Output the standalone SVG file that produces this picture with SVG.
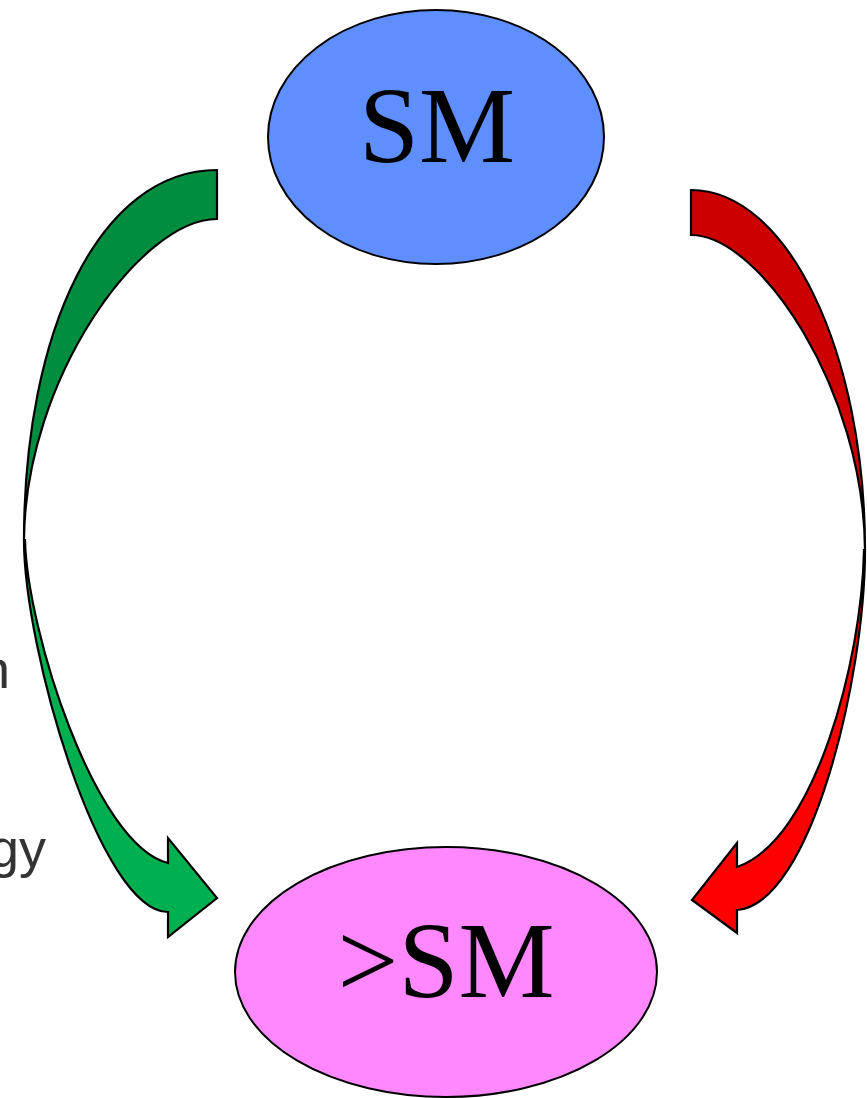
<svg xmlns="http://www.w3.org/2000/svg" width="867" height="1098" viewBox="0 0 867 1098">
<style>
.node{stroke:#000;stroke-width:2}
.lbl{font-family:"Liberation Serif","Times New Roman",serif;font-size:108px;fill:#000;text-anchor:middle}
.arr{stroke:#000;stroke-width:2.2;stroke-linejoin:miter}
.frag{font-family:"Liberation Sans",Arial,sans-serif;font-size:54px;fill:#333;text-anchor:end}
</style>
<rect width="867" height="1098" fill="#fff"/>
<g id="fragments">
<text class="frag" x="10" y="688">n</text>
<text class="frag" x="46" y="867">gy</text>
</g>
<g id="connectors">
<g id="green-arrow">
<path class="arr" fill="#008d40" d="M217,170 C100,170 24,330 24,540 C25,380 140,219 217,219 Z"/>
<path class="arr" fill="#00b050" d="M24,540 C24,650 100,912 168,912 L168,937 L217,898 L168,838 L168,863 C95,845 27,630 25,540 Z"/>
</g>
<g id="red-arrow">
<path class="arr" fill="#cc0000" d="M691,190 C787,190 865,351 865,550 C864,390 760,235 691,235 Z"/>
<path class="arr" fill="#ff0000" d="M865,550 C865,680 810,905 737,910 L737,933 L692,900 L737,843 L737,867 C815,840 862,660 864,550 Z"/>
</g>
</g>
<g id="node-sm">
<ellipse class="node" cx="436" cy="137" rx="168" ry="127" fill="#5f8fff"/>
<text class="lbl" x="437" y="162">SM</text>
</g>
<g id="node-gtsm">
<ellipse class="node" cx="446" cy="972" rx="211" ry="125" fill="#ff88ff"/>
<text class="lbl" x="446" y="997">&gt;SM</text>
</g>
</svg>
